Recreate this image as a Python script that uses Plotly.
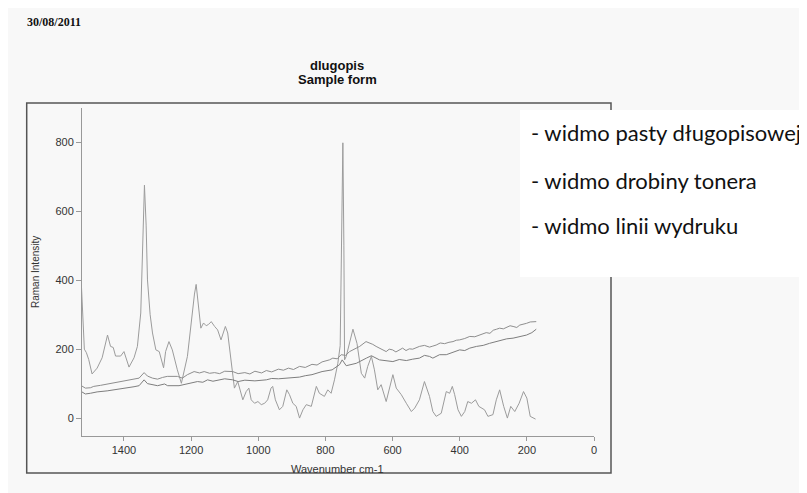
import plotly.graph_objects as go

# ---- data ----
paste_wn = [1527, 1522, 1518, 1512, 1505, 1495, 1480, 1465, 1449, 1440, 1432, 1425, 1410, 1400,
            1385, 1370, 1360, 1350, 1344, 1339, 1334, 1330, 1322, 1315, 1305, 1295, 1282, 1276,
            1266, 1256, 1241, 1229, 1211, 1196, 1190, 1185, 1178, 1171, 1163, 1155, 1148, 1140,
            1130, 1121, 1111, 1098, 1091, 1081, 1076, 1071, 1061, 1054, 1046, 1036, 1028, 1021,
            1011, 1001, 991, 981, 972, 962, 957, 949, 937, 927, 915, 907, 897, 887, 877, 867,
            857, 842, 827, 818, 803, 793, 783, 773, 763, 756, 752, 748, 745, 743, 738, 728, 718,
            706, 693, 683, 674, 663, 654, 644, 634, 619, 609, 599, 589, 574, 559, 544, 534, 520,
            505, 490, 480, 470, 455, 440, 430, 422, 415, 405, 395, 385, 376, 365, 353, 343, 326,
            316, 301, 291, 281, 269, 258, 248, 236, 223, 210, 200, 190, 174]
paste_int = [390, 260, 200, 190, 170, 128, 145, 175, 241, 208, 205, 180, 180, 193,
             148, 175, 208, 305, 520, 676, 560, 401, 300, 247, 198, 193, 146, 193,
             222, 198, 140, 101, 179, 314, 360, 388, 330, 261, 276, 268, 272, 280,
             266, 256, 227, 266, 247, 159, 111, 87, 106, 82, 53, 77, 87, 53,
             43, 48, 39, 43, 53, 87, 92, 53, 24, 34, 82, 68, 43, 34, 0, 24,
             39, 34, 92, 72, 63, 82, 72, 111, 159, 210, 500, 799, 500, 169, 179, 220, 258,
             217, 130, 116, 150, 179, 140, 82, 97, 48, 92, 126, 87, 68, 43, 19, 29, 53,
             106, 63, 19, 5, 14, 77, 72, 92, 68, 24, 5, 19, 48, 43, 53, 34, 24,
             5, 10, 53, 82, 34, 0, 34, 19, 43, 77, 58, 5, -3]

toner_wn = [1527, 1515, 1500, 1490, 1470, 1450, 1420, 1400, 1380, 1355, 1340, 1330, 1315, 1300,
            1285, 1271, 1241, 1226, 1211, 1191, 1175, 1161, 1145, 1130, 1115, 1100, 1076, 1060,
            1040, 1025, 1010, 990, 976, 960, 940, 925, 910, 895, 877, 860, 840, 825, 810, 788,
            778, 765, 753, 740, 728, 712, 698, 679, 669, 659, 649, 634, 619, 610, 600, 590, 579,
            570, 560, 550, 540, 530, 520, 505, 490, 480, 470, 458, 445, 432, 420, 410, 400, 385,
            370, 355, 341, 330, 321, 310, 300, 290, 281, 270, 260, 250, 241, 230, 221, 210, 201,
            190, 182, 172]
toner_int = [94, 87, 88, 92, 95, 99, 104, 108, 111, 116, 132, 122, 116, 113,
             118, 121, 121, 116, 126, 135, 131, 135, 130, 132, 129, 136, 135, 129,
             132, 128, 136, 131, 138, 134, 142, 139, 145, 141, 150, 147, 156, 154, 163, 169,
             174, 172, 184, 182, 193, 200, 208, 222, 219, 214, 208, 201, 193, 200, 198, 192, 198,
             203, 196, 201, 200, 204, 208, 211, 206, 209, 212, 218, 216, 220, 222, 226, 227, 231,
             237, 236, 241, 246, 248, 246, 255, 258, 261, 259, 263, 268, 266, 263, 270, 272, 275,
             279, 280, 280]

print_wn = [1527, 1515, 1500, 1480, 1450, 1420, 1400, 1370, 1355, 1340, 1330, 1315, 1300, 1279,
            1270, 1236, 1211, 1181, 1165, 1151, 1135, 1120, 1100, 1076, 1060, 1040, 1010, 976,
            960, 940, 910, 877, 860, 840, 810, 780, 758, 750, 738, 708, 678, 663, 639, 620, 599,
            580, 559, 540, 520, 505, 490, 480, 460, 440, 420, 400, 385, 370, 350, 330, 311, 295,
            276, 260, 241, 221, 201, 185, 172]
print_int = [77, 70, 72, 76, 79, 83, 87, 91, 94, 111, 100, 97, 94, 99,
             94, 94, 99, 106, 104, 111, 107, 110, 114, 111, 106, 110, 108, 111,
             115, 114, 117, 119, 123, 126, 135, 140, 155, 169, 152, 159, 174, 181, 169, 166, 164,
             170, 167, 171, 174, 182, 179, 174, 184, 184, 192, 198, 196, 203, 208, 211, 217, 221,
             227, 230, 232, 236, 241, 248, 258]

x_ticks = [1400, 1200, 1000, 800, 600, 400, 200, 0]
y_ticks = [0, 200, 400, 600, 800]
legend_lines = ["- widmo pasty długopisowej", "- widmo drobiny tonera", "- widmo linii wydruku"]

# page has an 8px body margin: figure is shifted so the plot area lands at the same place
OFF = 8
W, H = 807 - OFF, 493 - OFF
L, R, T, B = 82 - OFF, 213, 108 - OFF, 57
PW, PH = W - L - R, H - T - B

BG = "#f8f8f8"
fig = go.Figure()
fig.add_trace(go.Scatter(x=paste_wn, y=paste_int, mode="lines", name="pasta",
                         line=dict(color="#9c9c9c", width=1)))
fig.add_trace(go.Scatter(x=toner_wn, y=toner_int, mode="lines", name="toner",
                         line=dict(color="#8e8e8e", width=1)))
fig.add_trace(go.Scatter(x=print_wn, y=print_int, mode="lines", name="wydruk",
                         line=dict(color="#7e7e7e", width=1)))

axfont = dict(family="Liberation Sans, Arial", size=11, color="#333")
fig.update_layout(
    width=W, height=H,
    margin=dict(l=L, r=R, t=T, b=B),
    paper_bgcolor=BG, plot_bgcolor=BG,
    showlegend=False,
    xaxis=dict(range=[1525, 0], tickvals=x_ticks, ticks="outside", ticklen=4,
               tickcolor="#999", showline=True, linecolor="#999", linewidth=1,
               showgrid=False, zeroline=False, tickfont=axfont),
    yaxis=dict(range=[-52, 900], tickvals=y_ticks, ticks="outside", ticklen=5,
               tickcolor="#999", showline=True, linecolor="#999", linewidth=1,
               showgrid=False, zeroline=False, tickfont=axfont),
)


def px(xp):
    return (xp - OFF - L) / PW


def py(yp):
    return (H - B - (yp - OFF)) / PH


# outer frame and white label box (page pixel positions)
fig.add_shape(type="rect", xref="paper", yref="paper", x0=px(26.7), x1=px(611),
              y0=py(473), y1=py(103), line=dict(color="#555", width=1.5), layer="below")
fig.add_shape(type="rect", xref="paper", yref="paper", x0=px(520), x1=px(830),
              y0=py(277), y1=py(110), line=dict(width=0), fillcolor="white", layer="above")

ann = []
ann.append(dict(text="<b>30/08/2011</b>", x=25, y=22, xanchor="left", yanchor="middle",
                font=dict(family="Liberation Serif, Times New Roman", size=12, color="#111")))
ann.append(dict(text="<b>dlugopis</b>", x=337, y=65, xanchor="center", yanchor="middle",
                font=dict(family="Liberation Sans, Arial", size=13, color="#111")))
ann.append(dict(text="<b>Sample form</b>", x=337, y=80, xanchor="center", yanchor="middle",
                font=dict(family="Liberation Sans, Arial", size=13, color="#111")))
ann.append(dict(text="Wavenumber cm-1", x=337, y=469, xanchor="center", yanchor="middle",
                font=dict(family="Liberation Sans, Arial", size=11, color="#333")))
ann.append(dict(text="Raman Intensity", x=35, y=272, xanchor="center", yanchor="middle",
                textangle=-90, font=dict(family="Liberation Sans, Arial", size=10, color="#333")))
for txt, yy in zip(legend_lines, [133, 180, 225]):
    ann.append(dict(text=txt, x=529, y=yy, xanchor="left", yanchor="middle",
                    font=dict(family="Lato, Noto Sans", size=22, color="#111")))

for a in ann:
    a["xref"] = "paper"
    a["yref"] = "paper"
    a["showarrow"] = False
    a["x"] = px(a["x"])
    a["y"] = py(a["y"])
fig.update_layout(annotations=ann)

fig.write_html("out.html")
